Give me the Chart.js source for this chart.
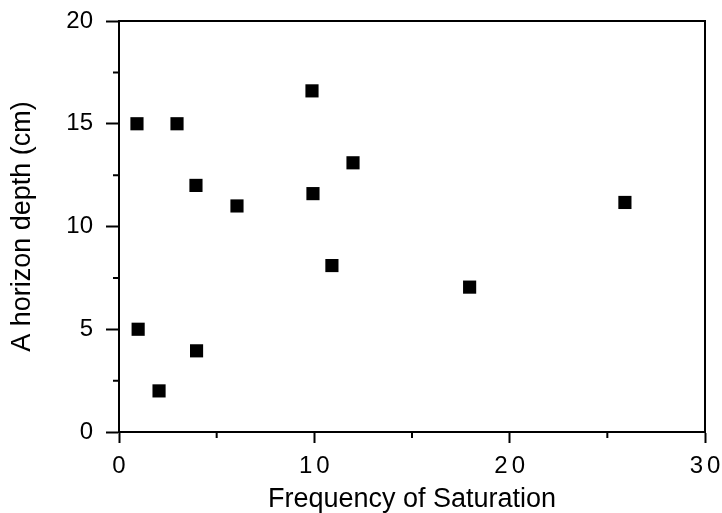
<!DOCTYPE html>
<html>
<head>
<meta charset="utf-8">
<script src="https://cdn.jsdelivr.net/npm/chart.js@4/dist/chart.umd.min.js"></script>
<style>
  body { margin: 0; background: #fff; }
</style>
</head>
<body>
<canvas id="chart" width="722" height="513"></canvas>
<script>
// values
const freq  = [0.92, 2.97, 3.94, 6.04, 9.88, 9.93, 11.98, 10.9, 25.9, 17.95, 0.98, 2.05, 3.97];
const depth = [15.0, 15.0, 12.0, 11.0, 16.6, 11.6, 13.1, 8.1, 11.17, 7.05, 5.0, 2.0, 3.95];

const xMinorTicks = [5, 15, 25];
const yMinorTicks = [2.5, 7.5, 12.5, 17.5];

const font = 'Liberation Sans, Arial, Helvetica, sans-serif';

// top and right frame + the short minor ticks
const frameAndMinor = {
  id: 'frameAndMinor',
  afterDraw(chart) {
    const c = chart.ctx;
    const a = chart.chartArea;
    const xs = chart.scales.x, ys = chart.scales.y;
    c.save();
    c.strokeStyle = '#000';
    c.lineWidth = 2;
    c.beginPath();
    c.moveTo(a.left, a.top);
    c.lineTo(a.right, a.top);
    c.lineTo(a.right, a.bottom);
    xMinorTicks.forEach(v => {
      const px = xs.getPixelForValue(v);
      c.moveTo(px, a.bottom);
      c.lineTo(px, a.bottom + 6);
    });
    yMinorTicks.forEach(v => {
      const py = ys.getPixelForValue(v);
      c.moveTo(a.left - 6, py);
      c.lineTo(a.left, py);
    });
    c.stroke();
    c.restore();
  }
};

// x tick labels are widely tracked in the original
const spacedTicks = {
  id: 'spacedTicks',
  beforeDraw(chart) {
    const sc = chart.scales.x;
    if (sc._spaced) return;
    const orig = sc.drawLabels.bind(sc);
    sc.drawLabels = (area) => {
      chart.ctx.save();
      chart.ctx.letterSpacing = '4px';
      orig(area);
      chart.ctx.restore();
    };
    sc._spaced = true;
  }
};

new Chart(document.getElementById('chart').getContext('2d'), {
  type: 'scatter',
  data: {
    datasets: [{
      data: freq.map((f, i) => ({ x: f, y: depth[i] })),
      pointStyle: 'rect',
      pointRadius: 9.3,
      pointBorderWidth: 0,
      backgroundColor: '#000',
      borderColor: '#000'
    }]
  },
  options: {
    responsive: false,
    animation: false,
    layout: { padding: { top: 21, right: 17, left: 0, bottom: 0 } },
    plugins: { legend: { display: false }, tooltip: { enabled: false } },
    scales: {
      x: {
        min: 0, max: 30,
        afterFit(s) { s.height = 81; s.paddingLeft = 0; s.paddingRight = 0; },
        border: { color: '#000', width: 2 },
        grid: { drawOnChartArea: false, drawTicks: true, tickLength: 11, tickColor: '#000', tickWidth: 2 },
        ticks: { stepSize: 10, color: '#000', padding: 9, labelOffset: 2, font: { family: font, size: 24 } },
        title: { display: true, text: 'Frequency of Saturation', color: '#000', padding: 0,
                 font: { family: font, size: 27, lineHeight: 1 } }
      },
      y: {
        min: 0, max: 20,
        afterFit(s) { s.width = 119; s.paddingTop = 0; s.paddingBottom = 0; },
        border: { color: '#000', width: 2 },
        grid: { drawOnChartArea: false, drawTicks: true, tickLength: 13, tickColor: '#000', tickWidth: 2 },
        ticks: { stepSize: 5, color: '#000', padding: 13, font: { family: font, size: 24 } },
        title: { display: true, text: 'A horizon depth (cm)', color: '#000', padding: { top: 9 },
                 font: { family: font, size: 27, lineHeight: 1 } }
      }
    }
  },
  plugins: [frameAndMinor, spacedTicks]
});
</script>
</body>
</html>
